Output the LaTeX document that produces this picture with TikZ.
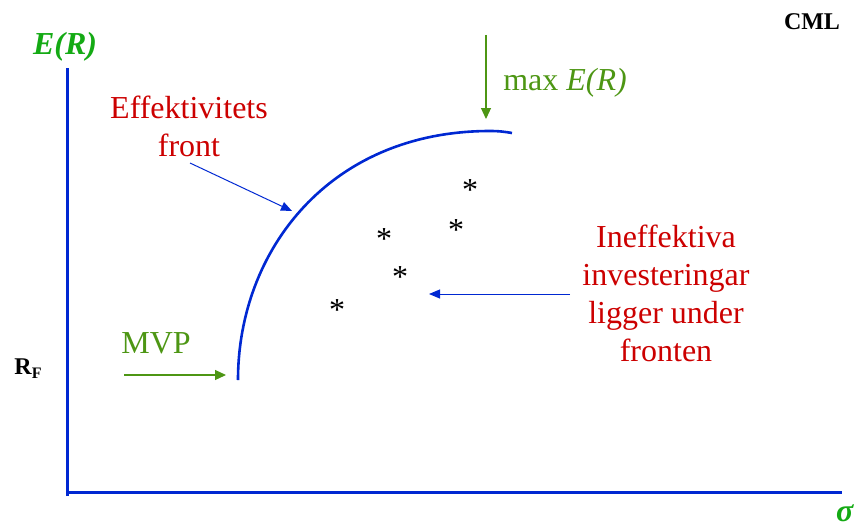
\documentclass[tikz,border=0pt]{standalone}
\usepackage{fontspec}
\setmainfont{Liberation Serif}
\usetikzlibrary{arrows.meta}
\definecolor{axblue}{RGB}{0,40,210}
\definecolor{brgreen}{RGB}{20,170,20}
\definecolor{olgreen}{RGB}{77,150,20}
\definecolor{txred}{RGB}{204,0,0}
\tikzset{
  axis/.style={draw=axblue, line width=3pt},
  front/.style={draw=axblue, line width=2.6pt},
  bigtxt/.style={inner sep=0pt, font=\fontsize{32}{38}\selectfont},
  garrow/.style={draw=olgreen, line width=1.2pt, -{Triangle[length=11pt,width=10pt]}},
  barrow/.style={draw=axblue, line width=1pt, -{Triangle[length=11pt,width=9pt]}},
  starnode/.style={inner sep=0pt, font=\fontsize{32}{32}\selectfont},
}
\begin{document}
\begin{tikzpicture}[x=1pt,y=-1pt]
\useasboundingbox (0,0) rectangle (859,527);
% axes
\coordinate (orig) at (67,492);
\coordinate (ytop) at (67,68);
\coordinate (xend) at (842,492);
\draw[axis] (67,496) -- (ytop);
\draw[axis] (orig) -- (xend);
% axis labels
\node[bigtxt, text=brgreen] (ER) at (65,47) {\textbf{\textit{E(R)}}};
\node[bigtxt, text=brgreen] (sig) at (845,513) {\textbf{\textit{σ}}};
\node[inner sep=0pt, font=\fontsize{24}{24}\selectfont\bfseries] (cml) at (812,22) {CML};
\node[inner sep=0pt, font=\fontsize{24}{24}\selectfont\bfseries] (rf) at (28,369) {R\raisebox{-4pt}{\fontsize{16}{16}\selectfont F}};
% efficient frontier
\coordinate (mvp) at (238,380);
\coordinate (top) at (490,131);
\coordinate (fend) at (512,133);
\draw[front] (mvp) .. controls (238,250) and (330,131) .. (top) .. controls (500,131) and (506,132) .. (fend);
\coordinate (fronthit) at (292,211);
% max E(R)
\node[bigtxt, text=olgreen] (maxer) at (565,83) {max \textit{E(R)}};
\coordinate (maxtop) at (486,35);
\coordinate (maxbot) at (486,119);
\draw[garrow] (maxtop) -- (maxbot);
% Effektivitets front
\node[bigtxt, text=txred, align=center] (eff) at (189,126) {Effektivitets\\front};
\coordinate (effstart) at (190,163);
\draw[barrow] (effstart) -- (fronthit);
% stars
\node[starnode] (s1) at (470,190) {*};
\node[starnode] (s2) at (456,230) {*};
\node[starnode] (s3) at (384,239) {*};
\node[starnode] (s4) at (400,277) {*};
\node[starnode] (s5) at (337,310) {*};
% Ineffektiva
\node[bigtxt, text=txred, align=center] (ineff) at (666,293) {Ineffektiva\\investeringar\\ligger under\\fronten};
\coordinate (inarrS) at (570,294);
\coordinate (inarrE) at (429,294);
\draw[barrow] (inarrS) -- (inarrE);
% MVP
\node[bigtxt, text=olgreen] (mvptxt) at (156,343) {MVP};
\coordinate (mvpS) at (124,375);
\coordinate (mvpE) at (226,375);
\draw[garrow] (mvpS) -- (mvpE);
\end{tikzpicture}
\end{document}
